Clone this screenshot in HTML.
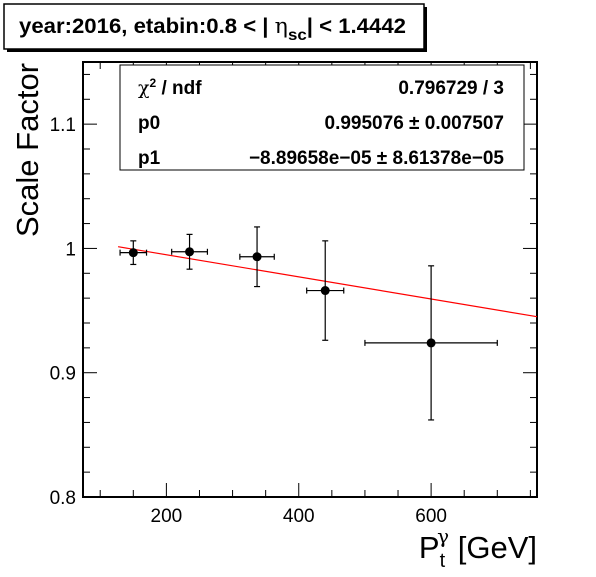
<!DOCTYPE html>
<html><head><meta charset="utf-8"><style>
body{margin:0;background:#fff;font-family:"Liberation Sans",sans-serif}
svg text{font-family:"Liberation Sans",sans-serif}
</style></head><body>
<svg id="c" width="596" height="572" xmlns="http://www.w3.org/2000/svg">
<rect x="0" y="0" width="596" height="572" fill="#fff"/>
<g>
<rect x="7" y="7" width="420" height="45" fill="#000"/>
<rect x="4" y="4" width="420" height="45" fill="#fff" stroke="#000" stroke-width="1.5"/>
<text x="19" y="33" font-size="21" font-weight="bold" textLength="387" lengthAdjust="spacingAndGlyphs">year:2016, etabin:0.8 &lt; |  <tspan font-family="DejaVu Serif" font-weight="normal">η</tspan><tspan font-size="16" dy="7">sc</tspan><tspan dy="-7">| &lt; 1.4442</tspan></text>
</g>
<g id="axes"></g>
<g id="marks"></g>
<g>
<rect x="120" y="65" width="404" height="105" fill="#fff" stroke="#000" stroke-width="1"/>
<text x="138" y="94" font-size="19" font-weight="bold"><tspan font-family="DejaVu Serif" font-weight="normal">χ</tspan><tspan font-size="12" dy="-7">2</tspan><tspan dy="7"> / ndf</tspan></text>
<text x="504" y="94" font-size="19" font-weight="bold" text-anchor="end">0.796729 / 3</text>
<text x="138" y="129" font-size="19" font-weight="bold">p0</text>
<text x="504" y="129" font-size="19" font-weight="bold" text-anchor="end">0.995076 ± 0.007507</text>
<text x="138" y="164" font-size="19" font-weight="bold">p1</text>
<text x="504" y="164" font-size="19" font-weight="bold" text-anchor="end">−8.89658e−05 ± 8.61378e−05</text>
</g>
<text x="0" y="0" font-size="31" transform="translate(38,150) rotate(-90)" text-anchor="middle">Scale Factor</text>
<text x="537" y="558" font-size="31" text-anchor="end">P<tspan font-size="20" dy="9">t</tspan><tspan font-size="20" dy="-24" dx="-8" font-family="DejaVu Serif">γ</tspan><tspan dy="15"> [GeV]</tspan></text>
</svg>
<script>
const xVals=[150,235,337,440,600];
const xErr=[20,27,26,28,100];
const yVals=[0.9966,0.9973,0.9933,0.9661,0.924];
const yErr=[0.0095,0.014,0.024,0.040,0.062];
const fitA=1.0127, fitB=-8.89658e-05, fitRange=[127,760];
const xTicks=[200,400,600];
const yTicks=[0.8,0.9,1.0,1.1];
const X0=83,X1=537,Y0=497,Y1=62,xmin=74,xmax=760,ymin=0.8,ymax=1.15;
const sx=v=>X0+(v-xmin)/(xmax-xmin)*(X1-X0);
const sy=v=>Y0-(v-ymin)/(ymax-ymin)*(Y0-Y1);
const NS="http://www.w3.org/2000/svg";
function mk(tag,attrs,parent){const e=document.createElementNS(NS,tag);for(const k in attrs)e.setAttribute(k,attrs[k]);parent.appendChild(e);return e;}
const ax=document.getElementById('axes'), mg=document.getElementById('marks');
const frame=mk('rect',{x:X0,y:Y1,width:X1-X0,height:Y0-Y1,fill:'none',stroke:'#000','stroke-width':2},ax);


for(let v=100;v<=750;v+=50){const p=sx(v);const L=(v%200===0)?14:7;
mk('line',{x1:p,x2:p,y1:Y0,y2:Y0-L,stroke:'#000','stroke-width':1},ax);
mk('line',{x1:p,x2:p,y1:Y1,y2:Y1+L,stroke:'#000','stroke-width':1},ax);}
xTicks.forEach(v=>{const t=mk('text',{x:sx(v),y:Y0+25,'font-size':19,'text-anchor':'middle'},ax);t.textContent=v;

});
for(let i=0;i<=17;i++){const v=0.8+i*0.02;const p=sy(v);if(p<Y1)break;const L=(i%5===0)?14:7;
mk('line',{x1:X0,x2:X0+L,y1:p,y2:p,stroke:'#000','stroke-width':1},ax);
mk('line',{x1:X1,x2:X1-L,y1:p,y2:p,stroke:'#000','stroke-width':1},ax);}
yTicks.forEach(v=>{const t=mk('text',{x:X0-7,y:sy(v)+7,'font-size':19,'text-anchor':'end'},ax);t.textContent=(v===1?'1':v.toFixed(1));

});
const fl=mk('line',{x1:sx(fitRange[0]),y1:sy(fitA+fitB*fitRange[0]),x2:sx(fitRange[1]),y2:sy(fitA+fitB*fitRange[1]),stroke:'#f00','stroke-width':1.2},mg);


xVals.forEach((x,i)=>{const g=mk('g',{},mg);


const cx=sx(x),cy=sy(yVals[i]);const xl=sx(x-xErr[i]),xr=sx(x+xErr[i]),yt=sy(yVals[i]+yErr[i]),yb=sy(yVals[i]-yErr[i]);
mk('line',{x1:xl,x2:xr,y1:cy,y2:cy,stroke:'#000','stroke-width':1.2},g);
mk('line',{x1:cx,x2:cx,y1:yt,y2:yb,stroke:'#000','stroke-width':1.2},g);
mk('line',{x1:xl,x2:xl,y1:cy-3,y2:cy+3,stroke:'#000','stroke-width':1.2},g);
mk('line',{x1:xr,x2:xr,y1:cy-3,y2:cy+3,stroke:'#000','stroke-width':1.2},g);
mk('line',{x1:cx-3,x2:cx+3,y1:yt,y2:yt,stroke:'#000','stroke-width':1.2},g);
mk('line',{x1:cx-3,x2:cx+3,y1:yb,y2:yb,stroke:'#000','stroke-width':1.2},g);
mk('circle',{cx:cx,cy:cy,r:4.5,fill:'#000'},g);});
</script>
</body></html>
